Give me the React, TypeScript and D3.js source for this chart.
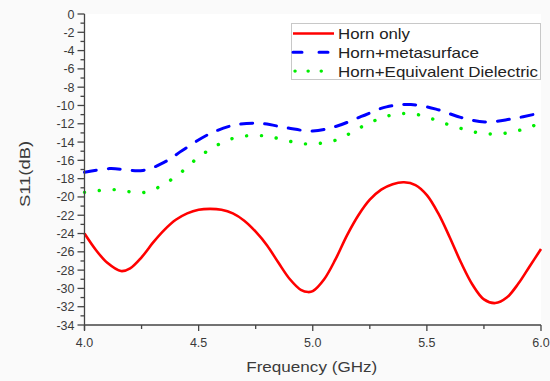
import React from "react";
import * as d3 from "d3";

const freqRed = [4.0, 4.05, 4.1, 4.16, 4.2, 4.25, 4.3, 4.35, 4.4, 4.45, 4.5, 4.55, 4.6, 4.65, 4.7, 4.75, 4.8, 4.85, 4.9, 4.95, 4.98, 5.0, 5.05, 5.1, 5.15, 5.2, 5.25, 5.3, 5.35, 5.4, 5.45, 5.5, 5.55, 5.6, 5.65, 5.7, 5.75, 5.8, 5.85, 5.9, 5.95, 6.0];
const hornOnly = [-24.0, -25.8, -27.2, -28.1, -27.8, -26.6, -25.0, -23.6, -22.5, -21.8, -21.4, -21.3, -21.4, -21.8, -22.6, -23.8, -25.3, -27.2, -29.0, -30.2, -30.4, -30.3, -29.0, -26.8, -24.2, -22.0, -20.3, -19.2, -18.6, -18.4, -18.7, -19.8, -21.8, -24.4, -27.2, -29.6, -31.2, -31.6, -31.0, -29.5, -27.6, -25.7];

const freqBlue = [4.0, 4.11, 4.256, 4.35, 4.43, 4.548, 4.665, 4.775, 4.887, 5.0, 5.104, 5.213, 5.323, 5.43, 5.54, 5.648, 5.754, 5.864, 6.0];
const hornMeta = [-17.3, -16.9, -17.1, -16.2, -14.9, -13.1, -12.1, -11.97, -12.45, -12.8, -12.27, -11.2, -10.15, -9.9, -10.4, -11.3, -11.8, -11.5, -10.8];

const freqGreen = [4.0, 4.124, 4.263, 4.387, 4.519, 4.65, 4.775, 4.972, 5.1, 5.17, 5.232, 5.298, 5.364, 5.428, 5.494, 5.557, 5.623, 5.689, 5.753, 5.819, 5.883, 5.947, 6.0];
const hornDiel = [-19.5, -19.2, -19.5, -18.0, -15.3, -13.6, -13.3, -14.2, -13.8, -12.96, -12.1, -11.4, -10.95, -10.9, -11.2, -11.8, -12.3, -12.8, -13.07, -13.1, -12.85, -12.4, -11.9];

const xTicks = [4.0, 4.5, 5.0, 5.5, 6.0];
const yTicks = [0, -2, -4, -6, -8, -10, -12, -14, -16, -18, -20, -22, -24, -26, -28, -30, -32, -34];
const seriesNames = ["Horn only", "Horn+metasurface", "Horn+Equivalent Dielectric"];

const W = 550, H = 381;
const L = 84.5, R = 541, T = 14, B = 325;
const FONT = "'Liberation Sans', Arial, sans-serif";

export default function App() {
  const x = d3.scaleLinear().domain([4, 6]).range([L, R]);
  const y = d3.scaleLinear().domain([-34, 0]).range([B, T]);
  const line = (fs: number[], vs: number[]) =>
    d3.line<number>().x((_, i) => x(fs[i])).y((v) => y(v)).curve(d3.curveCatmullRom.alpha(0.5))(vs) || "";

  const xMinor = d3.range(4, 6.001, 0.25);
  const yMinor = d3.range(-34, 0.001, 1);

  const styles = [
    { stroke: "#ff0000", width: 2.6, dash: "", cap: "butt" },
    { stroke: "#0000ff", width: 3, dash: "12 12", cap: "round" },
    { stroke: "#00ee00", width: 3.4, dash: "0.1 14.8", cap: "round" },
  ];
  const data = [
    [freqRed, hornOnly],
    [freqBlue, hornMeta],
    [freqGreen, hornDiel],
  ];
  const legendWidths = [72, 141, 200];

  return (
    <svg width={W} height={H} style={{ position: "absolute", left: 0, top: 0, background: "#fff" }} fontFamily={FONT}>
      <rect x={0} y={0} width={W} height={H} fill="#fafafa" />
      <rect x={L} y={T} width={R - L} height={B - T} fill="#fff" />
      {data.map(([fs, vs], i) => (
        <path key={i} d={line(fs as number[], vs as number[])} fill="none" stroke={styles[i].stroke}
          strokeWidth={styles[i].width} strokeDasharray={styles[i].dash || undefined}
          strokeLinecap={styles[i].cap as any} strokeLinejoin="round" />
      ))}
      {/* axes */}
      <g stroke="#444" strokeWidth={1.3}>
        <line x1={L} x2={L} y1={T} y2={B + 5} />
        <line x1={L} x2={R} y1={B} y2={B} />
        {yMinor.map((v) => (
          <line key={"ym" + v} x1={L - (Math.round(v) % 2 === 0 ? 7 : 4)} x2={L} y1={y(v)} y2={y(v)} />
        ))}
        {xMinor.map((v) => (
          <line key={"xm" + v} x1={x(v)} x2={x(v)} y1={B} y2={B + (Math.abs((v * 2) % 1) < 1e-6 ? 6 : 4)} />
        ))}
      </g>
      <g fontSize={12.5} fill="#3a3a3a">
        {yTicks.map((v) => (
          <text key={"yt" + v} x={L - 10} y={y(v) + 4.5} textAnchor="end">{v}</text>
        ))}
        {xTicks.map((v) => (
          <text key={"xt" + v} x={x(v)} y={347} textAnchor="middle">{v.toFixed(1)}</text>
        ))}
      </g>
      <text x={(L + R) / 2 - 1} y={372} textAnchor="middle" fontSize={15} fill="#3a3a3a"
        textLength={131} lengthAdjust="spacingAndGlyphs">Frequency (GHz)</text>
      <text transform={`translate(30, 174) rotate(-90)`} textAnchor="middle" fontSize={15} fill="#3a3a3a"
        textLength={66} lengthAdjust="spacingAndGlyphs">S11(dB)</text>
      {/* legend */}
      <rect x={291.5} y={23.5} width={249} height={56} fill="#fff" stroke="#c8c8c8" strokeWidth={1} />
      {seriesNames.map((n, i) => {
        const ly = 33.5 + i * 18.8;
        return (
          <g key={n}>
            <line x1={293} x2={334} y1={ly} y2={ly} stroke={styles[i].stroke} strokeWidth={styles[i].width}
              strokeDasharray={i === 1 ? "9 17" : i === 2 ? "0.1 13" : undefined}
              strokeDashoffset={i === 2 ? -2 : 0}
              strokeLinecap={styles[i].cap as any} />
            <text x={338} y={ly + 5.5} fontSize={15} fill="#222"
              textLength={legendWidths[i]} lengthAdjust="spacingAndGlyphs">{n}</text>
          </g>
        );
      })}
    </svg>
  );
}
